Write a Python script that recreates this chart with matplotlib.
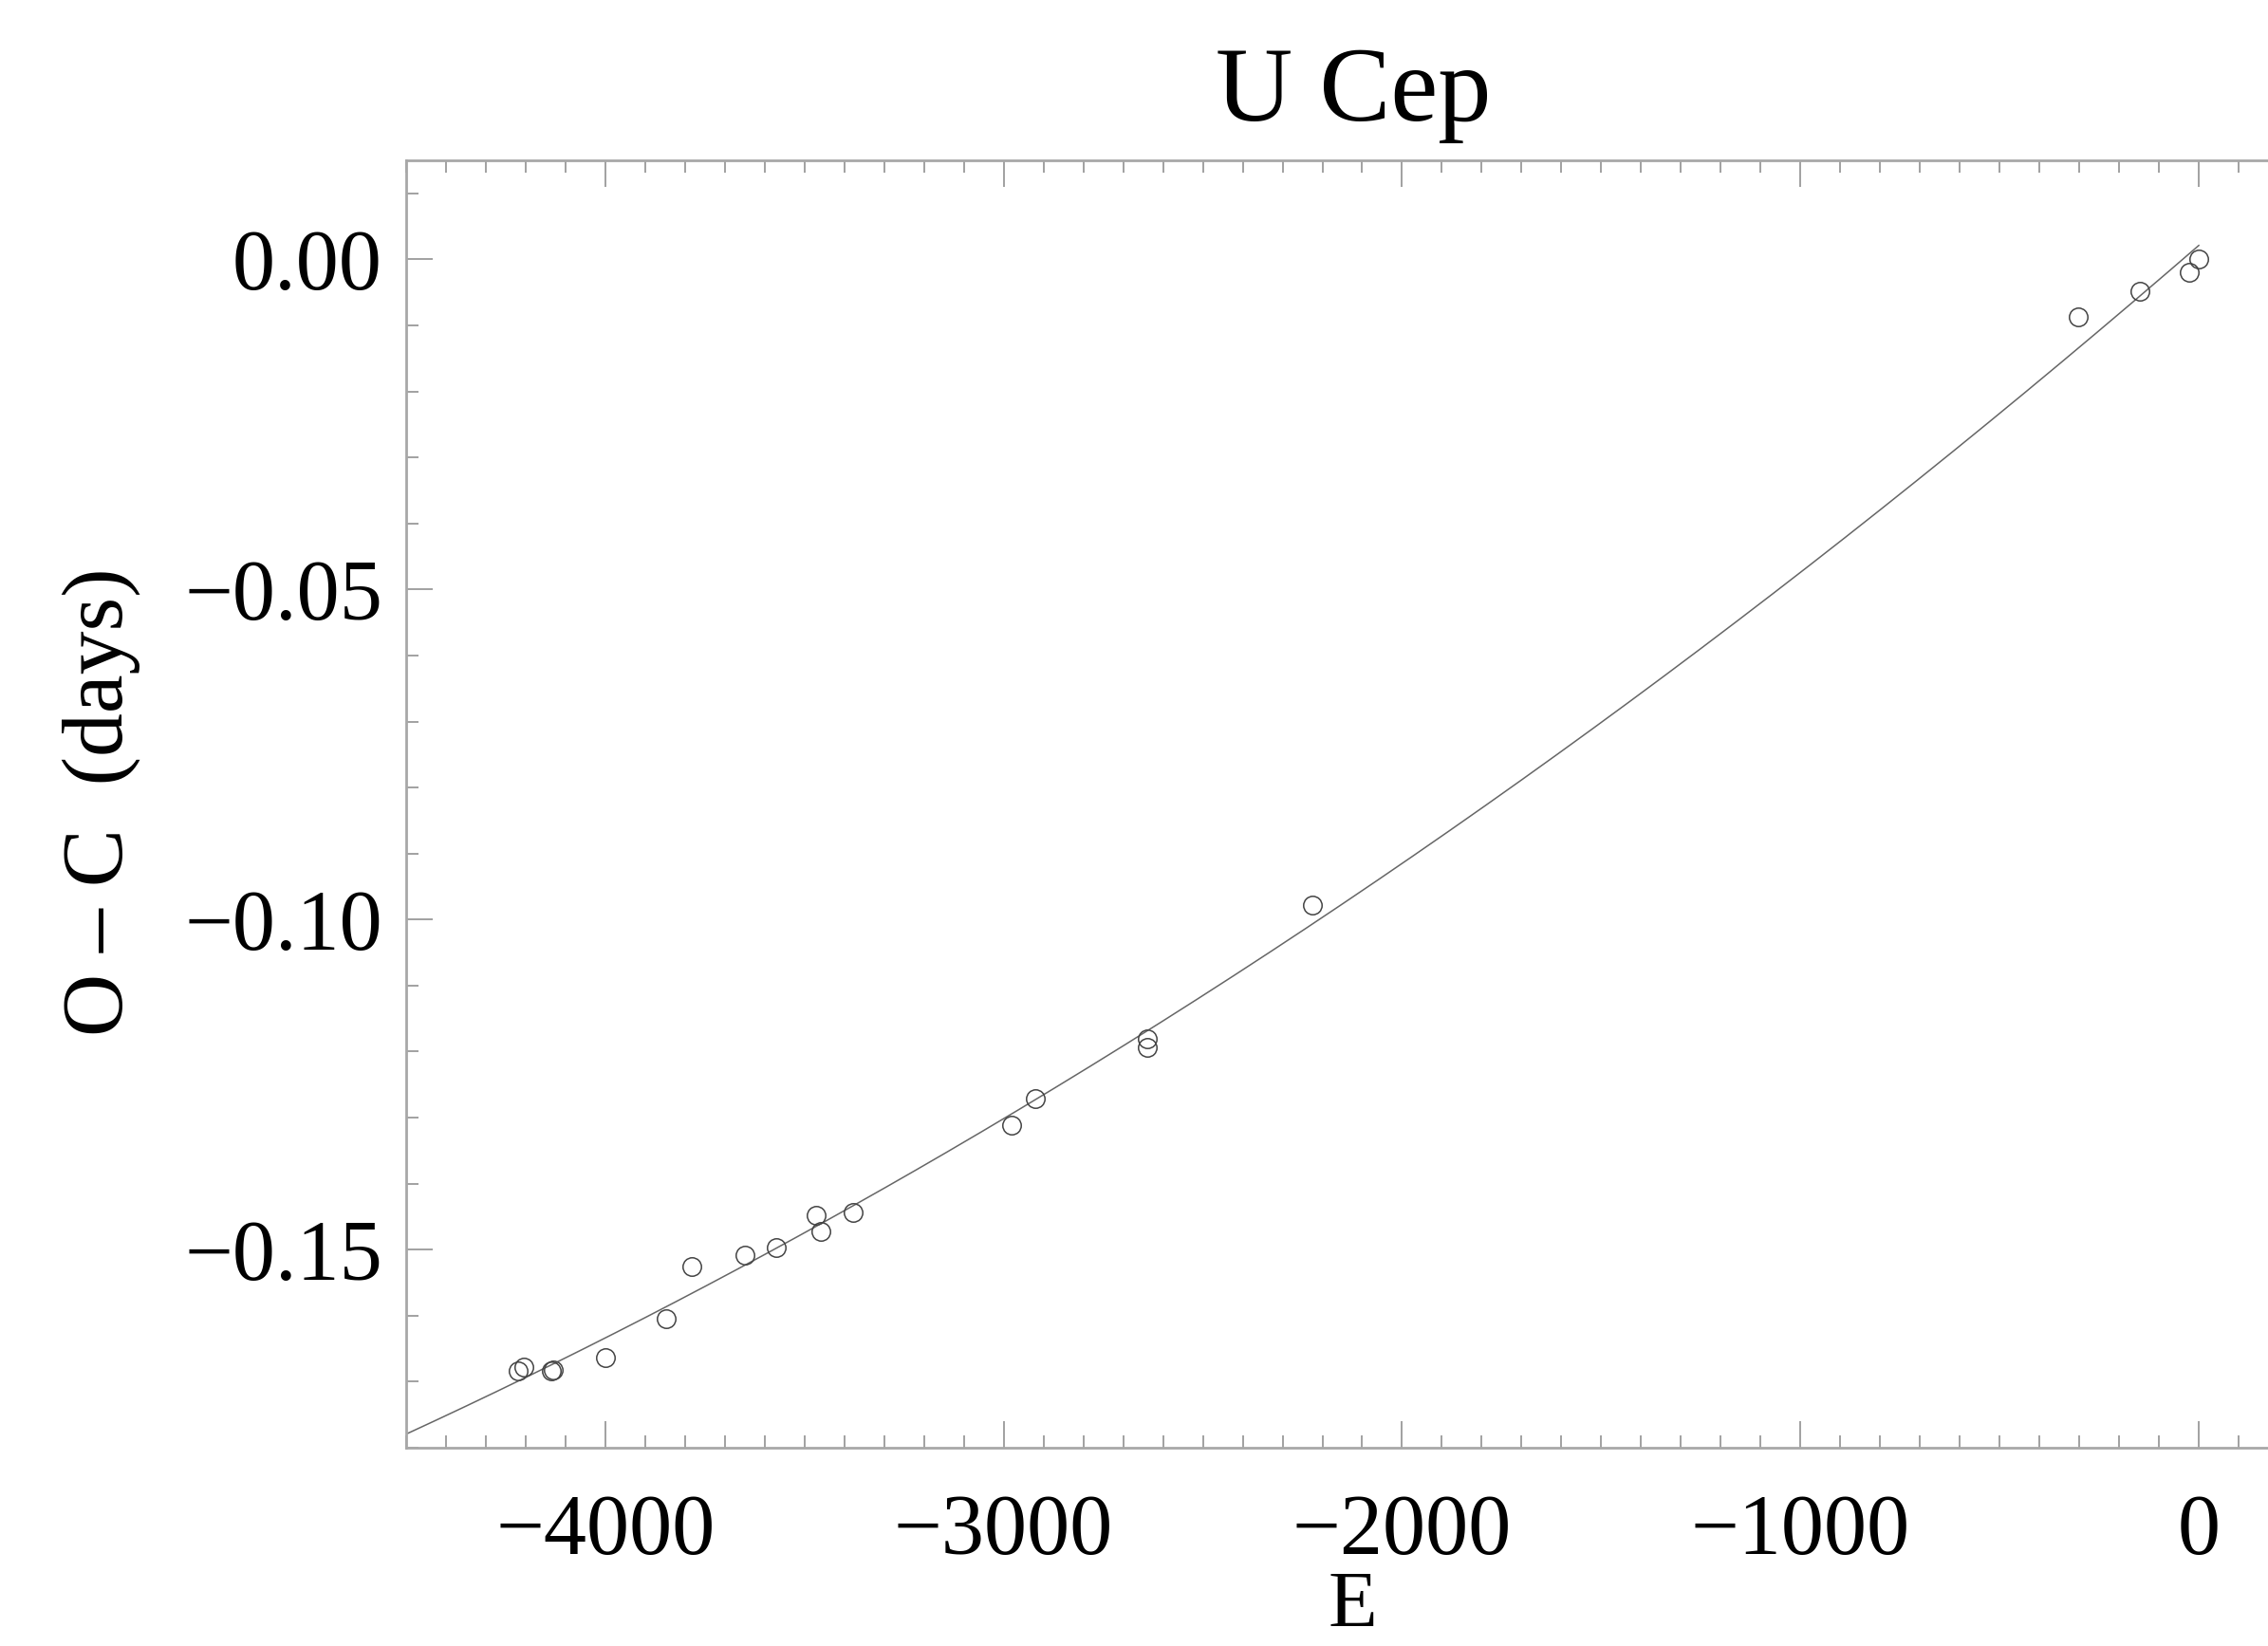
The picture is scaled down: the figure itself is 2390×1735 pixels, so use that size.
import numpy as np
import matplotlib
matplotlib.use('Agg')
import matplotlib.pyplot as plt
from matplotlib.ticker import MultipleLocator, FuncFormatter

plt.rcParams['font.family'] = ['Liberation Serif', 'DejaVu Serif']

# cycle number E and O-C residuals (days)
E = np.array([-4220, -4205, -4135, -4130, -3999, -3847, -3783, -3649, -3572,
              -3471, -3459, -3379, -2980, -2921, -2640, -2640, -2224,
              -303, -148, -24, 0])
OC = np.array([-0.1683, -0.1678, -0.1684, -0.1682, -0.1664, -0.1605, -0.1526,
               -0.1508, -0.1497, -0.1448, -0.1473, -0.1443, -0.1312, -0.1271,
               -0.1180, -0.1194, -0.0978, -0.0087, -0.0048, -0.0019, 0.0000])

title = 'U Cep'
xlabel = 'E'
ylabel = 'O \u2013 C  (days)'

# quadratic ephemeris fit through the points
coef = np.polyfit(E, OC, 2)
Efit = np.linspace(-4500, 0, 300)
OCfit = np.polyval(coef, Efit)

W, H = 2390, 1735
fig = plt.figure(figsize=(W / 100, H / 100), dpi=100)
# axes runs past the right edge of the picture, as in the original
ax = fig.add_axes([428 / W, 1 - 1526 / H, (2422 - 428) / W, (1526 - 169) / H])

ax.plot(Efit, OCfit, color='#666666', lw=1.1)
ax.plot(E, OC, 'o', mfc='none', mec='#444444', ms=14, mew=1.1)

ax.set_xlim(-4500, 250)
ax.set_ylim(-0.18, 0.015)

ax.xaxis.set_major_locator(MultipleLocator(1000))
ax.xaxis.set_minor_locator(MultipleLocator(100))
ax.yaxis.set_major_locator(MultipleLocator(0.05))
ax.yaxis.set_minor_locator(MultipleLocator(0.01))
ax.xaxis.set_major_formatter(FuncFormatter(lambda v, p: ('%d' % round(v)).replace('-', '\u2212')))
ax.yaxis.set_major_formatter(FuncFormatter(lambda v, p: ('%.2f' % (0.0 if abs(v) < 1e-9 else v)).replace('-', '\u2212')))

ax.tick_params(which='both', direction='in', top=True, right=True,
               color='#888888', width=1.1, labelsize=65, labelcolor='black')
ax.tick_params(which='major', length=20)
ax.tick_params(which='minor', length=9.5)
ax.tick_params(axis='x', pad=35)
ax.tick_params(axis='y', pad=18)
for s in ax.spines.values():
    s.set_color('#a8a8a8')
    s.set_linewidth(2)

fig.text(1426 / W, 1 - 127 / H, title, ha='center', va='baseline', fontsize=81)
fig.text(1425 / W, 1 - 1715 / H, xlabel, ha='center', va='baseline', fontsize=61)
fig.text(107 / W, 1 - 845 / H, ylabel, ha='center', va='center', rotation=90, fontsize=66)

fig.savefig('out.png', dpi=100)
